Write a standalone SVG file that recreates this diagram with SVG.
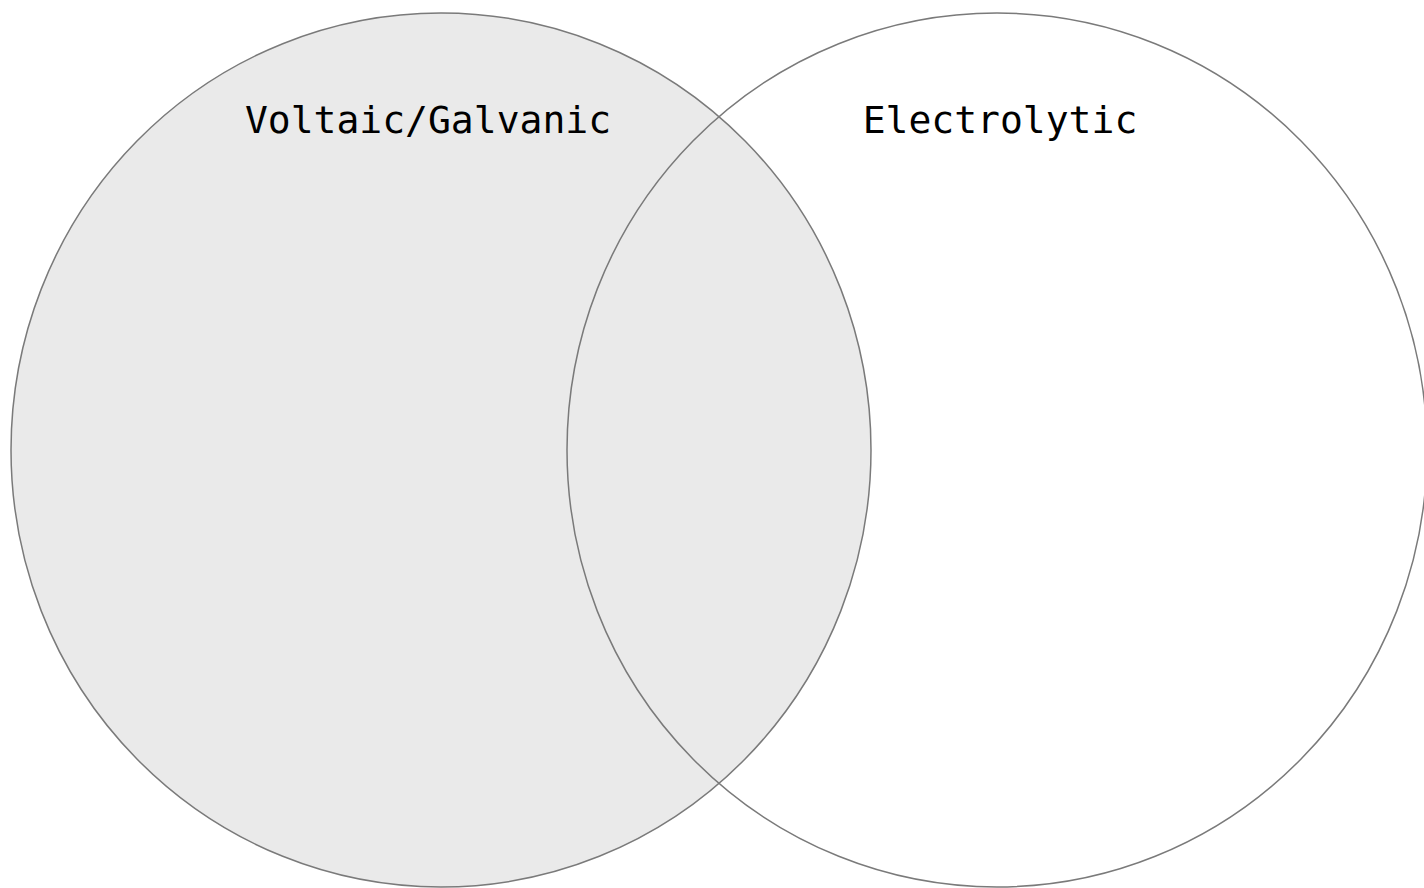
<svg xmlns="http://www.w3.org/2000/svg" width="1424" height="888" viewBox="0 0 1424 888">
<style>
.ring{stroke:#7a7a7a;stroke-width:1.5}
.lbl{font-family:"DejaVu Sans Mono","Liberation Mono",monospace;font-size:38px;fill:#000;text-anchor:middle}
</style>
<rect width="1424" height="888" fill="#ffffff"/>
<g id="voltaic">
<ellipse cx="441" cy="450" rx="430" ry="437" fill="#eaeaea" class="ring"/>
<text class="lbl" x="428" y="133">Voltaic/Galvanic</text>
</g>
<g id="electrolytic">
<ellipse cx="997" cy="450" rx="430" ry="437" fill="none" class="ring"/>
<text class="lbl" x="1000" y="133">Electrolytic</text>
</g>
</svg>
